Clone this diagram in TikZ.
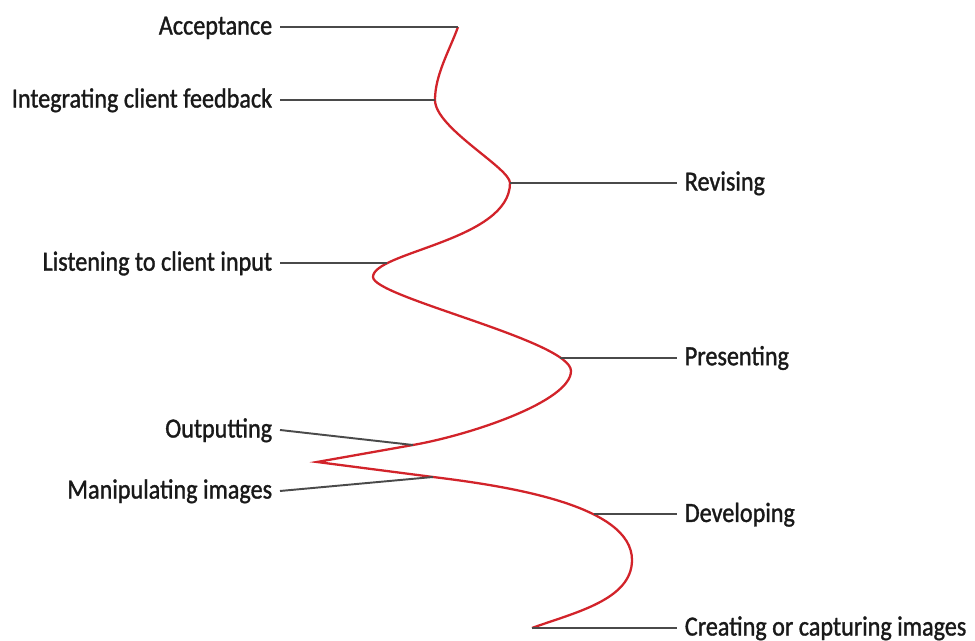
\documentclass[tikz,border=0pt]{standalone}
\usepackage{fontspec}
\setmainfont{Carlito}[FakeStretch=0.87, FakeBold=1.2]
\usepackage{xcolor}
\usepackage{tikz}
\definecolor{pathred}{HTML}{D2232A}
\definecolor{leadgray}{HTML}{4A4A4A}

\begin{document}
\begin{tikzpicture}[
  stage/.style={
    font=\fontsize{15.8}{18}\selectfont, text=black!90,
    inner xsep=0.15cm, inner ysep=0pt, text height=10.6pt, text depth=2pt},
  lstage/.style={stage, anchor=east},
  rstage/.style={stage, anchor=west},
  lead/.style={leadgray, line width=1.1pt},
  spiral/.style={pathred, line width=1.3pt},
]
  \useasboundingbox (0,0) rectangle (19.5,12.82);

  % Label columns
  \coordinate (lcol) at (5.6,0);
  \coordinate (rcol) at (13.54,0);

  % Turning points of the path
  \coordinate (accPt) at (9.16,12.28);
  \coordinate (intPt) at (8.70,10.82);
  \coordinate (revPt) at (10.20,9.16);
  \coordinate (lisL)  at (7.46,7.28);
  \coordinate (preR)  at (11.42,5.40);
  \coordinate (outPt) at (8.26,3.92);
  \coordinate (cusp)  at (6.34,3.58);
  \coordinate (manPt) at (8.66,3.28);
  \coordinate (devR)  at (12.64,1.62);
  \coordinate (crePt) at (10.64,0.26);

  % The workflow path
  \draw[spiral] (accPt)
    to[out=250, in=90, out distance=0.5cm, in distance=0.5cm] (intPt)
    to[out=270, in=90, out distance=0.56cm, in distance=0.3cm] (revPt)
    to[out=270, in=90, out distance=1.15cm, in distance=0.5cm]
      coordinate[pos=0.8] (lisPt) (lisL)
    to[out=270, in=90, out distance=0.4cm, in distance=0.6cm]
      coordinate[pos=0.86] (prePt) (preR)
    to[out=270, in=10, out distance=0.6cm, in distance=1.2cm] (outPt)
    -- (cusp) -- (manPt)
    to[out=-7, in=90, out distance=1.5cm, in distance=1.1cm]
      coordinate[pos=0.65] (devPt) (devR)
    to[out=270, in=20, out distance=0.8cm, in distance=0.9cm] (crePt);

  % Stages on the left
  \node[lstage] (acc) at (accPt -| lcol) {Acceptance};
  \node[lstage] (int) at (intPt -| lcol) {Integrating client feedback};
  \node[lstage] (lis) at (lisPt -| lcol) {Listening to client input};
  \node[lstage] (out) at (5.6,4.22) {Outputting};
  \node[lstage] (man) at (5.6,3.00) {Manipulating images};

  % Stages on the right
  \node[rstage] (rev) at (revPt -| rcol) {Revising};
  \node[rstage] (pre) at (prePt -| rcol) {Presenting};
  \node[rstage] (dev) at (devPt -| rcol) {Developing};
  \node[rstage] (cre) at (crePt -| rcol) {Creating or capturing images};

  % Leads
  \draw[lead] (acc.east) -- (accPt);
  \draw[lead] (int.east) -- (intPt);
  \draw[lead] (lis.east) -- (lisPt);
  \draw[lead] (out.east) -- (outPt);
  \draw[lead] (man.east) -- (manPt);
  \draw[lead] (revPt) -- (rev.west);
  \draw[lead] (prePt) -- (pre.west);
  \draw[lead] (devPt) -- (dev.west);
  \draw[lead] (crePt) -- (cre.west);
\end{tikzpicture}
\end{document}
